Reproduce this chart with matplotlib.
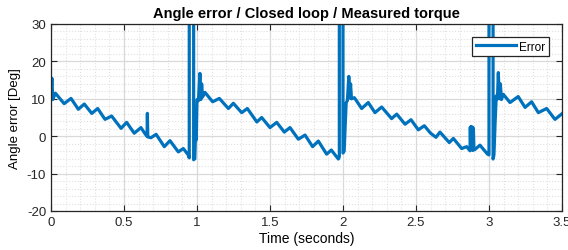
import matplotlib
matplotlib.use("Agg")
import matplotlib.pyplot as plt
from matplotlib.ticker import MultipleLocator, FormatStrFormatter

plt.rcParams['font.family'] = ['Liberation Sans', 'DejaVu Sans']
plt.rcParams['axes.unicode_minus'] = False

# valores (tempo em s, erro em graus)
tempo = [
    0.000, 0.006, 0.012, 0.030, 0.090, 0.137, 0.187, 0.228, 0.279, 0.320,
    0.370, 0.415, 0.480, 0.518, 0.570, 0.616, 0.645, 0.658, 0.660, 0.663,
    0.685, 0.720, 0.776, 0.815, 0.872, 0.906, 0.940, 0.947, 0.947, 0.977,
    0.977, 0.985, 0.990, 0.995, 1.000, 1.010, 1.020, 1.026, 1.032, 1.038,
    1.055, 1.107, 1.153, 1.215, 1.249, 1.306, 1.345, 1.410, 1.443, 1.500,
    1.546, 1.598, 1.637, 1.694, 1.740, 1.792, 1.831, 1.888, 1.920, 1.968,
    1.975, 1.975, 2.000, 2.000, 2.008, 2.015, 2.022, 2.030, 2.040, 2.046,
    2.052, 2.058, 2.078, 2.128, 2.173, 2.219, 2.265, 2.333, 2.368, 2.425,
    2.466, 2.516, 2.557, 2.600, 2.637, 2.664, 2.728, 2.756, 2.813, 2.847,
    2.870, 2.872, 2.875, 2.878, 2.882, 2.886, 2.890, 2.893, 2.897, 2.902,
    2.938, 2.990, 3.000, 3.000, 3.028, 3.028, 3.034, 3.042, 3.050, 3.058,
    3.064, 3.070, 3.078, 3.085, 3.098, 3.144, 3.200, 3.247, 3.292, 3.338,
    3.395, 3.452, 3.500,
]
erro = [
    11.0, 15.5, 9.8, 11.5, 8.7, 10.1, 7.2, 8.6, 6.1, 7.4,
    4.5, 5.4, 2.1, 3.7, 0.8, 2.3, 0.6, 0.0, 6.1, -0.2,
    -0.4, 0.5, -2.8, -1.2, -4.2, -3.3, -5.0, -5.8, 60.0, 60.0,
    -6.3, -6.0, 1.0, -1.0, 9.8, 9.5, 16.8, 9.8, 14.0, 10.5,
    11.7, 9.2, 10.1, 7.4, 8.8, 6.3, 7.4, 3.8, 5.0, 2.3,
    3.7, 1.1, 2.3, -0.8, 0.3, -2.8, -1.3, -4.8, -3.7, -6.1,
    -5.5, 60.0, 60.0, -4.5, -4.0, 2.8, 9.0, 9.5, 16.0, 10.2,
    14.0, 10.0, 10.3, 7.4, 9.0, 6.3, 7.8, 4.7, 5.9, 3.2,
    4.4, 1.7, 2.8, 0.8, -0.3, 1.1, -1.7, -0.6, -3.3, -2.8,
    -3.9, 2.4, -3.5, 2.6, -3.6, 2.4, -3.8, 2.2, -3.5, -3.6,
    -2.4, -4.8, -5.0, 60.0, 60.0, -6.1, -5.0, 3.7, 10.8, 10.0,
    17.0, 10.0, 14.0, 9.8, 11.2, 9.0, 10.6, 7.7, 9.2, 6.3,
    7.4, 4.5, 6.0,
]

fig = plt.figure(figsize=(5.68, 2.51), dpi=100)
ax = fig.add_axes([0.0898, 0.1554, 0.8996, 0.745])

ax.plot(tempo, erro, color='#0072BD', linewidth=2.3, label='Error')

ax.set_xlim(0, 3.5)
ax.set_ylim(-20, 30)
ax.xaxis.set_major_locator(MultipleLocator(0.5))
ax.xaxis.set_minor_locator(MultipleLocator(0.1))
ax.yaxis.set_major_locator(MultipleLocator(10))
ax.yaxis.set_minor_locator(MultipleLocator(2))
ax.xaxis.set_major_formatter(FormatStrFormatter('%g'))

ax.grid(which='major', color='#d9d9d9', linewidth=0.9)
ax.grid(which='minor', color='#e0e0e0', linestyle=':', linewidth=0.8)
ax.set_axisbelow(True)

ax.tick_params(which='both', direction='in', top=True, right=True, labelsize=9.5,
               colors='#262626', length=4)
ax.tick_params(which='minor', length=0)
for s in ax.spines.values():
    s.set_color('#262626')
    s.set_linewidth(0.9)

ax.set_title('Angle error / Closed loop / Measured torque', fontsize=10.5,
             fontweight='bold', pad=5)
ax.set_xlabel('Time (seconds)', fontsize=10, labelpad=2)
ax.set_ylabel('Angle error [Deg]', fontsize=9.5, labelpad=4)

leg = ax.legend(loc='upper right', bbox_to_anchor=(549 / 568, 1 - 38 / 251),
                bbox_transform=fig.transFigure, fontsize=8.5, fancybox=False,
                framealpha=1, edgecolor='#262626', handlelength=3.4,
                borderpad=0.3, handletextpad=0.3, borderaxespad=0)
leg.get_frame().set_linewidth(0.9)

fig.savefig('out.png', dpi=100)
